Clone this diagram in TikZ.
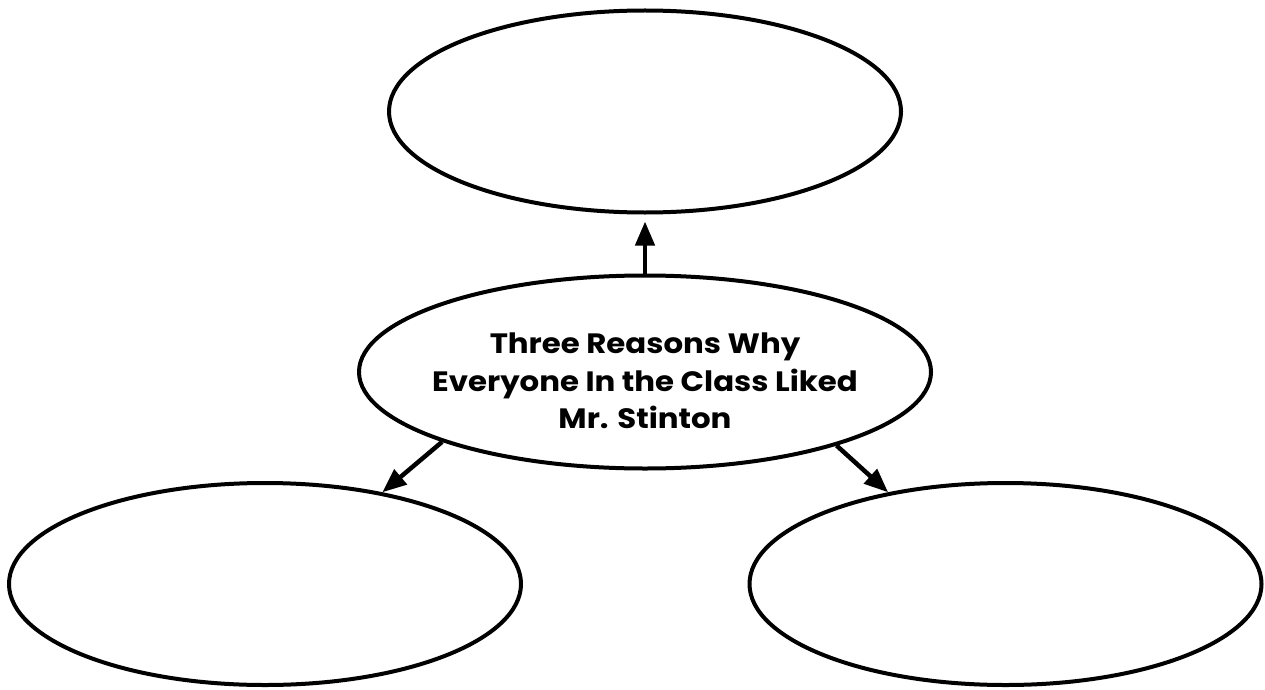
\documentclass[tikz,border=0pt]{standalone}
\usepackage{fontspec}
\setmainfont{Poppins}[FakeStretch=1.1]
\usetikzlibrary{shapes.geometric,arrows.meta}
\begin{document}
\begin{tikzpicture}[x=1pt,y=-1pt,
  bubble/.style={draw=black, line width=4pt, ellipse, inner sep=0pt,
    minimum width=512pt, minimum height=202pt},
  center bubble/.style={draw=black, line width=4pt, ellipse, inner sep=0pt,
    minimum width=572pt, minimum height=193pt},
  bubble text/.style={align=center, inner sep=0pt, yshift=-9pt,
    font=\fontsize{28}{37.5}\selectfont\bfseries},
  link/.style={line width=4.5pt, -{Triangle[length=24pt,width=19pt]}}]
\useasboundingbox (0,0) rectangle (1265,690);
\node[bubble] (top) at (645,111.5) {};
\node[center bubble, label={[bubble text]center:{Three Reasons Why\\Everyone In the Class Liked\\Mr. Stinton}}] (mid) at (645,372) {};
\node[bubble] (bl) at (265,584) {};
\node[bubble] (br) at (1005.5,584) {};
\draw[link, shorten >=7pt] (mid.north) -- (top.south);
\draw[link] (mid.199) -- (bl.38);
\draw[link] (mid.339) -- (br.142);
\end{tikzpicture}
\end{document}
